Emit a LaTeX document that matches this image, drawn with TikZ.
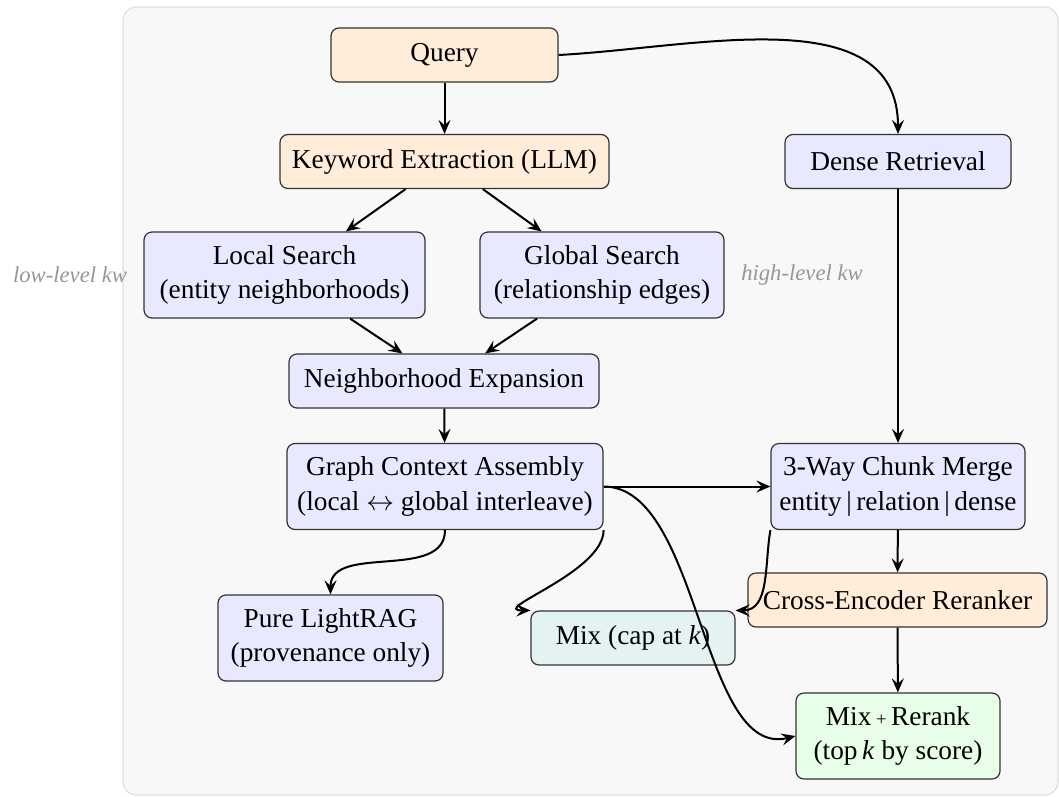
\documentclass[tikz,border=0pt]{standalone}
\usepackage{fontspec}
\setmainfont{Liberation Serif}
\usetikzlibrary{arrows.meta}
\definecolor{panelfill}{RGB}{248,248,248}
\definecolor{paneldraw}{RGB}{222,222,222}
\definecolor{peach}{RGB}{255,236,217}
\definecolor{lav}{RGB}{232,232,255}
\definecolor{tealbg}{RGB}{229,242,242}
\definecolor{mint}{RGB}{230,255,230}
\definecolor{lblgray}{RGB}{150,150,150}
\begin{document}
\begin{tikzpicture}[x=0.75pt,y=-0.75pt,
  box/.style={draw=black!80, line width=0.9pt, rounded corners=6pt, align=center,
    inner sep=2pt, font=\fontsize{20.5pt}{26pt}\selectfont},
  one/.style={minimum height=40.5pt},
  two/.style={minimum height=64.5pt},
  warm/.style={box, fill=peach},
  cool/.style={box, fill=lav},
  tealbox/.style={box, fill=tealbg},
  greenbox/.style={box, fill=mint},
  lbl/.style={text=lblgray, font=\fontsize{17pt}{20pt}\selectfont\itshape},
  arr/.style={line width=1.5pt, -{Stealth[length=10.5pt,width=9pt,inset=4pt]}}
]
\useasboundingbox (0,0) rectangle (1059,796);
\draw[fill=panelfill, draw=paneldraw, line width=0.8pt, rounded corners=10pt] (123,7) rectangle (1058,795);

\node[warm, one, minimum width=170.25pt] (q) at (444.5,55) {Query};
\node[warm, one, minimum width=246.75pt] (kw) at (444.5,161.5) {Keyword Extraction (LLM)};
\node[cool, one, minimum width=169.5pt] (dr) at (898,161.5) {Dense Retrieval};
\node[cool, two, minimum width=210.75pt] (ls) at (284.5,275) {Local Search\\(entity neighborhoods)};
\node[cool, two, minimum width=183pt] (gs) at (602,275) {Global Search\\(relationship edges)};
\node[lbl] (lowkw) at (70,275) {low-level kw};
\node[lbl] (highkw) at (802,275) {high-level kw};
\node[cool, one, minimum width=232.5pt] (ne) at (444,381) {Neighborhood Expansion};
\node[cool, two, minimum width=237pt] (gca) at (445,486.5) {Graph Context Assembly\\(local $\leftrightarrow$ global interleave)};
\node[cool, two, minimum width=190.5pt] (cm) at (898,486.5) {3-Way Chunk Merge\\entity\,|\,relation\,|\,dense};
\node[warm, one, minimum width=224.25pt] (ce) at (897.5,600) {Cross-Encoder Reranker};
\node[cool, two, minimum width=168.75pt] (pl) at (330.5,638) {Pure LightRAG\\(provenance only)};
\node[tealbox, one, minimum width=153pt] (mix) at (633,638) {Mix (cap at \textit{k})};
\node[greenbox, two, minimum width=153pt] (mr) at (898,736) {Mix\,{\fontsize{14pt}{14pt}\selectfont+}\,Rerank\\(top\,\textit{k} by score)};

\draw[arr] (q) -- (kw);
\draw[arr] (q.east) to[out=3, in=90] (dr.north);
\draw[arr] (kw) -- (ls);
\draw[arr] (kw) -- (gs);
\draw[arr] (ls) -- (ne);
\draw[arr] (gs) -- (ne);
\draw[arr] (ne) -- (gca);
\draw[arr] (dr) -- (cm);
\draw[arr] (gca) -- (cm);
\draw[arr] (cm) -- (ce);
\draw[arr] (ce) -- (mr);
\draw[arr] (gca.south) to[out=-90, in=90] (pl.north);
\draw[arr] (gca.south east) to[out=-90, in=180] (mix.north west);
\draw[arr] (cm.south west) to[out=-100, in=0] (mix.north east);
\draw[arr] (gca.east) .. controls +(97,0) and +(-95,24) .. (mr.west);
\end{tikzpicture}
\end{document}
